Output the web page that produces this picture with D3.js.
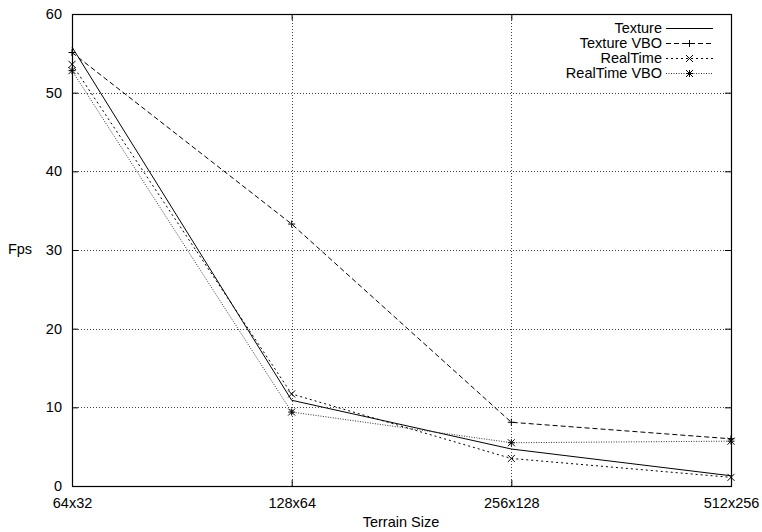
<!DOCTYPE html>
<html>
<head>
<meta charset="utf-8">
<script src="https://cdn.jsdelivr.net/npm/d3@7"></script>
<style>
  body { margin: 0; background: #fff; }
  text { font-family: "Liberation Sans", Arial, sans-serif; fill: #000; }
</style>
</head>
<body>
<div class="container"></div>
<script>
const w = 762;
const h = 532;

const sizes = ['64x32', '128x64', '256x128', '512x256'];
const texture = [55.8, 10.9, 4.7, 1.3];
const textureVbo = [55.1, 33.3, 8.1, 6.0];
const realTime = [53.6, 11.7, 3.5, 1.1];
const realTimeVbo = [52.8, 9.4, 5.5, 5.7];
const yTicks = [0, 10, 20, 30, 40, 50, 60];

const margin = { left: 72, right: 31, top: 14, bottom: 46 };
const fontSize = 14.5;

const series = [
  { name: 'Texture', values: texture, dash: null, marker: null, color: '#000' },
  { name: 'Texture VBO', values: textureVbo, dash: '5,3', marker: 'plus', color: '#000' },
  { name: 'RealTime', values: realTime, dash: '2,3', marker: 'cross', color: '#000' },
  { name: 'RealTime VBO', values: realTimeVbo, dash: '1,1.5', marker: 'star', color: '#333' },
];

let svg = null;
let x = null;
let y = null;

window.onload = () => {
  setSvg();
  drawGrid();
  drawAxes();
  drawLines();
  drawLegend();
};

function setSvg() {
  svg = d3.select('.container').append('svg')
    .attr('width', w)
    .attr('height', h);

  x = d3.scalePoint().domain(sizes).range([margin.left, w - margin.right]);
  y = d3.scaleLinear().domain([0, 60]).range([h - margin.bottom, margin.top]);
}

function drawGrid() {
  const g = svg.append('g')
    .attr('stroke', '#444')
    .attr('stroke-width', 1)
    .attr('stroke-dasharray', '1,2');

  g.selectAll('.hgrid').data(yTicks.slice(1, -1)).enter().append('line')
    .attr('x1', margin.left)
    .attr('x2', w - margin.right)
    .attr('y1', (d) => Math.round(y(d)) + 0.5)
    .attr('y2', (d) => Math.round(y(d)) + 0.5);

  g.selectAll('.vgrid').data(sizes.slice(1, -1)).enter().append('line')
    .attr('x1', (d) => Math.round(x(d)) + 0.5)
    .attr('x2', (d) => Math.round(x(d)) + 0.5)
    .attr('y1', margin.top)
    .attr('y2', h - margin.bottom);
}

function drawAxes() {
  const left = d3.axisLeft(y).tickValues(yTicks).tickSize(-6).tickPadding(10);
  const right = d3.axisRight(y).tickValues(yTicks).tickSize(-6).tickFormat('');
  const bottom = d3.axisBottom(x).tickSize(-6).tickPadding(12);
  const top = d3.axisTop(x).tickSize(-6).tickFormat('');

  const fix = (g) => {
    g.select('.domain').remove();
    g.selectAll('line').attr('stroke', '#000');
    g.selectAll('text').attr('font-size', fontSize).attr('font-family', '"Liberation Sans", Arial, sans-serif');
  };

  svg.append('g').attr('transform', `translate(${margin.left},0)`).call(left).call(fix);
  svg.append('g').attr('transform', `translate(${w - margin.right},0)`).call(right).call(fix);
  svg.append('g').attr('transform', `translate(0,${h - margin.bottom})`).call(bottom).call(fix);
  svg.append('g').attr('transform', `translate(0,${margin.top})`).call(top).call(fix);

  svg.append('rect')
    .attr('x', margin.left + 0.5)
    .attr('y', margin.top + 0.5)
    .attr('width', w - margin.left - margin.right)
    .attr('height', h - margin.top - margin.bottom)
    .attr('fill', 'none')
    .attr('stroke', '#000')
    .attr('stroke-width', 1.2);

  svg.append('text')
    .attr('x', 20)
    .attr('y', 254)
    .attr('text-anchor', 'middle')
    .attr('font-size', fontSize)
    .text('Fps');

  svg.append('text')
    .attr('x', 401)
    .attr('y', 527)
    .attr('text-anchor', 'middle')
    .attr('font-size', fontSize)
    .text('Terrain Size');
}

function markerPath(type, s) {
  const plus = `M${-s},0H${s}M0,${-s}V${s}`;
  const cross = `M${-s},${-s}L${s},${s}M${-s},${s}L${s},${-s}`;
  if (type === 'plus') return plus;
  if (type === 'cross') return cross;
  if (type === 'star') return plus + cross;
  return '';
}

function drawLines() {
  const line = d3.line().x((d, i) => x(sizes[i])).y((d) => y(d));

  series.forEach((s) => {
    svg.append('path')
      .datum(s.values)
      .attr('d', line)
      .attr('fill', 'none')
      .attr('stroke', s.color)
      .attr('stroke-width', 1)
      .attr('stroke-dasharray', s.dash);

    if (s.marker) {
      svg.selectAll(null).data(s.values).enter().append('path')
        .attr('transform', (d, i) => `translate(${x(sizes[i])},${y(d)})`)
        .attr('d', markerPath(s.marker, 3.5))
        .attr('fill', 'none')
        .attr('stroke', '#000')
        .attr('stroke-width', 1);
    }
  });
}

function drawLegend() {
  const textX = 662;
  const x1 = 666;
  const x2 = 713;

  series.forEach((s, i) => {
    const ly = 28 + i * 15;
    svg.append('text')
      .attr('x', textX)
      .attr('y', ly + 5)
      .attr('text-anchor', 'end')
      .attr('font-size', fontSize)
      .text(s.name);

    svg.append('line')
      .attr('x1', x1)
      .attr('x2', x2)
      .attr('y1', ly + 0.5)
      .attr('y2', ly + 0.5)
      .attr('stroke', s.color)
      .attr('stroke-width', 1)
      .attr('stroke-dasharray', s.dash);

    if (s.marker) {
      svg.append('path')
        .attr('transform', `translate(${(x1 + x2) / 2},${ly + 0.5})`)
        .attr('d', markerPath(s.marker, 3.5))
        .attr('fill', 'none')
        .attr('stroke', '#000')
        .attr('stroke-width', 1);
    }
  });
}
</script>
</body>
</html>
